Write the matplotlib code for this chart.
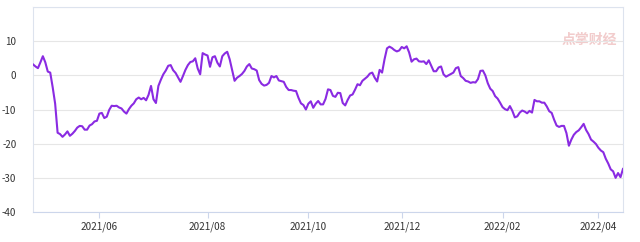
import matplotlib
matplotlib.use('Agg')
import matplotlib.pyplot as plt
import numpy as np

plt.rcParams['font.family'] = ['Noto Sans CJK SC', 'DejaVu Sans']

# one value per trading day, 2021/04 .. 2022/04
values = [
    3.2, 2.6, 2.1, 3.8, 5.6, 3.8, 1.1, 0.8, -3.5, -8.3,
    -16.8, -17.2, -18.0, -17.3, -16.4, -17.7, -17.1, -16.3, -15.3, -14.8,
    -14.9, -15.9, -15.9, -14.7, -14.3, -13.5, -13.3, -11.2, -11.0, -12.5,
    -12.1, -10.1, -8.9, -9.0, -8.9, -9.4, -9.7, -10.6, -11.2, -9.9,
    -8.9, -8.2, -7.0, -6.5, -7.0, -6.6, -7.3, -5.7, -3.1, -7.0,
    -8.1, -3.1, -1.3, 0.3, 1.4, 2.8, 3.0, 1.5, 0.7, -0.6,
    -1.9, -0.2, 1.6, 3.0, 3.9, 4.1, 5.0, 2.0, 0.3, 6.5,
    6.1, 5.8, 2.5, 5.3, 5.6, 3.7, 2.6, 5.6, 6.4, 6.9,
    4.7, 1.5, -1.6, -0.7, -0.2, 0.4, 1.3, 2.6, 3.3, 2.0,
    1.8, 1.4, -1.4, -2.5, -3.0, -2.8, -2.2, -0.2, -0.6, -0.2,
    -1.5, -1.7, -1.9, -3.4, -4.3, -4.3, -4.5, -4.6, -6.6, -8.2,
    -8.7, -10.0, -8.3, -7.6, -9.5, -8.3, -7.5, -8.5, -8.5, -6.9,
    -4.1, -4.3, -6.0, -6.3, -5.1, -5.2, -8.1, -8.8, -7.2, -5.9,
    -5.6, -4.2, -2.6, -2.9, -1.6, -1.0, -0.4, 0.5, 0.8, -0.7,
    -1.8, 1.6, 0.8, 4.7, 7.9, 8.4, 8.0, 7.4, 7.0, 7.3,
    8.3, 7.9, 8.5, 6.7, 4.0, 4.7, 4.9, 4.1, 4.0, 4.1,
    3.3, 4.4, 2.8, 1.2, 1.2, 2.3, 2.6, 0.3, -0.4, 0.0,
    0.4, 0.8, 2.1, 2.4, -0.2, -0.8, -1.6, -1.8, -2.2, -2.0,
    -2.1, -1.1, 1.3, 1.4, 0.0, -2.3, -3.9, -4.6, -6.1, -6.8,
    -8.0, -9.3, -9.9, -10.2, -9.0, -10.4, -12.3, -12.0, -10.9, -10.3,
    -10.6, -11.1, -10.4, -10.9, -7.2, -7.6, -7.6, -8.0, -8.0, -9.1,
    -10.5, -11.0, -13.0, -14.7, -15.1, -14.8, -14.8, -16.9, -20.6, -18.8,
    -17.4, -16.6, -16.1, -15.2, -14.2, -16.0, -17.2, -18.8, -19.4, -20.1,
    -21.2, -22.0, -22.5, -24.4, -25.8, -27.5, -28.1, -30.0, -28.6, -29.8,
    -27.4,
]

# first trading day of each labelled month (index into values)
tick_idx = [27, 71, 112, 150, 191, 230]
tick_labels = ['2021/06', '2021/08', '2021/10', '2021/12', '2022/02', '2022/04']
y_ticks = [-40, -30, -20, -10, 0, 10]

fig = plt.figure(figsize=(6.4, 2.42), dpi=100)
ax = fig.add_axes([0.0516, 0.124, 0.9218, 0.847])

x = np.arange(len(values))
ax.plot(x, values, color='#8a2be2', lw=1.5, zorder=3)

ax.set_xlim(0, len(values) - 1)
ax.set_ylim(-40, 20)
ax.set_yticks(y_ticks)
ax.set_yticks([20], minor=True)
ax.set_yticklabels([str(v) for v in y_ticks])
ax.set_xticks(tick_idx)
ax.set_xticklabels(tick_labels)

ax.grid(axis='y', which='both', color='#e6e6e6', lw=0.8)
ax.tick_params(axis='y', which='both', length=0, labelsize=7,
               labelcolor='#333333', pad=12)
ax.tick_params(axis='x', length=4, width=0.8, color='#ccd6eb',
               labelsize=7.2, labelcolor='#333333', pad=3)
for s in ax.spines.values():
    s.set_color('#dde3ee')
    s.set_linewidth(0.8)
ax.spines['bottom'].set_color('#ccd6eb')

# watermark
ax.text(0.99, 0.84, '点掌财经', transform=ax.transAxes, ha='right',
        va='center', fontsize=10, color='#f2cccc', fontweight='bold',
        zorder=1)

fig.savefig('out.png', dpi=100)
